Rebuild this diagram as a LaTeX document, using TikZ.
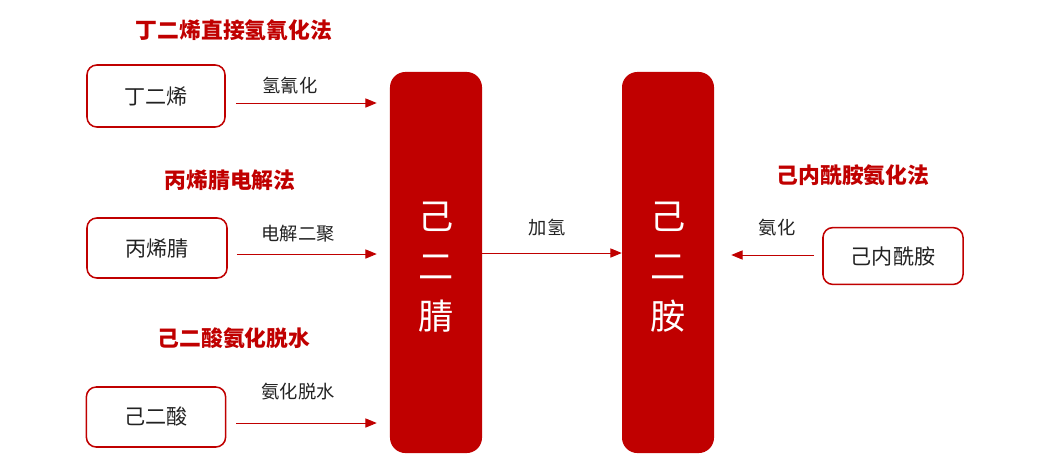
\documentclass[tikz,border=0pt]{standalone}
\usepackage{fontspec}
\setmainfont{Noto Sans CJK SC}
\usepackage{tikz}
\usetikzlibrary{arrows.meta}
\definecolor{deepred}{HTML}{C00000}
\definecolor{inkgray}{HTML}{222222}
\tikzset{srcbox/.style = {draw = deepred, line width = 1.1, rounded corners = 7, inner sep = 0, text = inkgray, font = \fontsize{15}{18}\selectfont}}
\tikzset{bigbar/.style = {fill = deepred, rounded corners = 11, minimum width = 2.3cm, minimum height = 9.525cm, inner sep = 0}}
\tikzset{bartext/.style = {text = white, align = center, font = \fontsize{25}{35.5}\selectfont}}
\tikzset{method/.style = {text = deepred, font = \bfseries\fontsize{15.5}{18}\selectfont}}
\tikzset{lbl/.style = {text = inkgray, font = \fontsize{13}{15}\selectfont}}
\tikzset{flow/.style = {draw = deepred, line width = 0.6, -{Triangle[length = 8pt, width = 6.5pt]}}}

\begin{document}
\begin{tikzpicture}[x = 0.025cm, y = -0.025cm]
    \useasboundingbox (0, 0) rectangle (1062, 461);

    \node [bigbar] (adn) at (436, 262.5) {};
    \node [bartext] (adntext) at (436, 267) {己\\二\\腈};
    \node [bigbar] (hmda) at (668, 262.5) {};
    \node [bartext] (hmdatext) at (668, 267) {己\\二\\胺};

    \node [srcbox, minimum width = 3.45cm, minimum height = 1.55cm] (bd) at (156, 96) {丁二烯};
    \node [srcbox, minimum width = 3.5cm, minimum height = 1.5cm] (acn) at (157, 248) {丙烯腈};
    \node [srcbox, minimum width = 3.48cm, minimum height = 1.5cm] (aa) at (156, 417) {己二酸};
    \node [srcbox, minimum width = 3.5cm, minimum height = 1.42cm] (cpl) at (893, 256) {己内酰胺};

    \node [method] (mbd) at (234, 30) {丁二烯直接氢氰化法};
    \node [method] (macn) at (230, 180) {丙烯腈电解法};
    \node [method] (maa) at (234, 338) {己二酸氨化脱水};
    \node [method] (mcpl) at (853, 175) {己内酰胺氨化法};

    \draw [flow] ([shift = {(10, 7)}]bd.east) -- ([xshift = -0.325cm]0, 103 -| adn.west);
    \node [lbl] (lbd) at (290, 86) {氢氰化};

    \draw [flow] ([shift = {(9, 6)}]acn.east) -- ([xshift = -0.325cm]0, 254 -| adn.west);
    \node [lbl] (lacn) at (298, 234) {电解二聚};

    \draw [flow] ([shift = {(10, 6)}]aa.east) -- ([xshift = -0.325cm]0, 423 -| adn.west);
    \node [lbl] (laa) at (298, 392) {氨化脱水};

    \draw [flow] (0, 253 -| adn.east) -- (0, 253 -| hmda.west);
    \node [lbl] (lh) at (547, 228) {加氢};

    \draw [flow] ([shift = {(-8, -1)}]cpl.west) -- ([xshift = 0.425cm]0, 255 -| hmda.east);
    \node [lbl] (lcpl) at (777, 228) {氨化};
\end{tikzpicture}
\end{document}
